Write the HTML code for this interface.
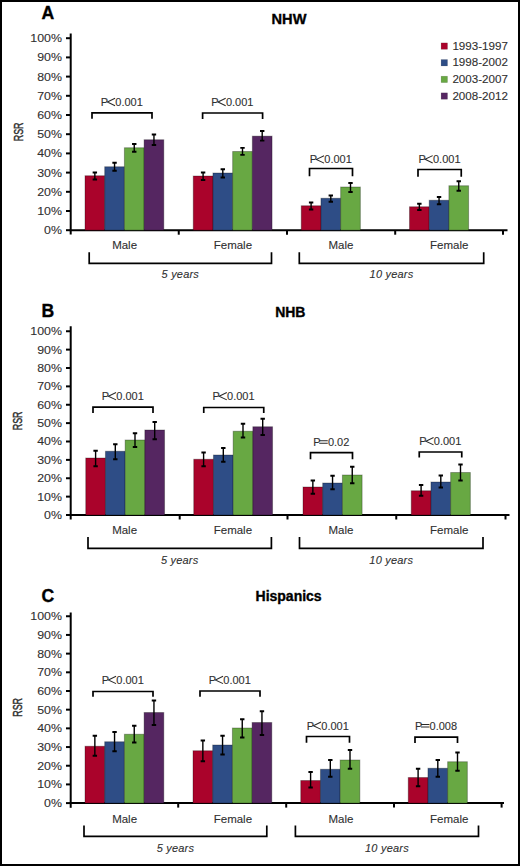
<!DOCTYPE html>
<html><head><meta charset="utf-8"><style>
html,body{margin:0;padding:0;background:#fff;}
body{width:520px;height:866px;overflow:hidden;}
svg{display:block;}
.thin{}
text{stroke:#303030;stroke-width:0.1;font-kerning:none;font-family:"Liberation Sans",sans-serif;fill:#303030;}
.lt{font-size:17.6px;font-weight:bold;fill:#000;stroke:#000;stroke-width:0.35;}
.tt{font-weight:bold;fill:#000;stroke:#000;stroke-width:0.35;}
.tk{font-size:11.8px;}
.rsr{font-size:13.4px;stroke:#2a2a2a;stroke-width:0.45;}
.pv{font-size:11px;}
.op{stroke:#2a2a2a;stroke-width:1.05;fill:none;stroke-linejoin:miter;}
.lb{font-size:11.5px;}
.yr{font-size:11px;font-style:italic;letter-spacing:0.2px;}
.lg{font-size:11.4px;}
.bar{stroke:rgba(0,0,0,0.3);stroke-width:1;}
.ax{stroke:#000;stroke-width:2;fill:none;}
.eb{stroke:#000;stroke-width:1.4;fill:none;}
.ec{stroke:#000;stroke-width:1.8;fill:none;}
.br{stroke:#000;stroke-width:1.7;fill:none;}
</style></head><body>
<svg width="520" height="866" viewBox="0 0 520 866">
<rect x="0" y="0" width="520" height="866" fill="#fff"/>
<text x="41.5" y="18.9" class="lt">A</text>
<text x="289" y="23.8" class="tt" style="font-size:14.6px" text-anchor="middle">NHW</text>
<line x1="70.7" y1="33.5" x2="70.7" y2="234.5" class="ax"/>
<line x1="69.7" y1="230.2" x2="507.5" y2="230.2" class="ax"/>
<line x1="66" y1="230.2" x2="71" y2="230.2" class="ax"/>
<text transform="translate(62,234.1) scale(1.05,1)" class="tk" text-anchor="end">0%</text>
<line x1="66" y1="211" x2="71" y2="211" class="ax"/>
<text transform="translate(62,214.9) scale(1.05,1)" class="tk" text-anchor="end">10%</text>
<line x1="66" y1="191.8" x2="71" y2="191.8" class="ax"/>
<text transform="translate(62,195.7) scale(1.05,1)" class="tk" text-anchor="end">20%</text>
<line x1="66" y1="172.6" x2="71" y2="172.6" class="ax"/>
<text transform="translate(62,176.5) scale(1.05,1)" class="tk" text-anchor="end">30%</text>
<line x1="66" y1="153.4" x2="71" y2="153.4" class="ax"/>
<text transform="translate(62,157.3) scale(1.05,1)" class="tk" text-anchor="end">40%</text>
<line x1="66" y1="134.2" x2="71" y2="134.2" class="ax"/>
<text transform="translate(62,138.1) scale(1.05,1)" class="tk" text-anchor="end">50%</text>
<line x1="66" y1="115" x2="71" y2="115" class="ax"/>
<text transform="translate(62,118.9) scale(1.05,1)" class="tk" text-anchor="end">60%</text>
<line x1="66" y1="95.8" x2="71" y2="95.8" class="ax"/>
<text transform="translate(62,99.7) scale(1.05,1)" class="tk" text-anchor="end">70%</text>
<line x1="66" y1="76.6" x2="71" y2="76.6" class="ax"/>
<text transform="translate(62,80.5) scale(1.05,1)" class="tk" text-anchor="end">80%</text>
<line x1="66" y1="57.4" x2="71" y2="57.4" class="ax"/>
<text transform="translate(62,61.3) scale(1.05,1)" class="tk" text-anchor="end">90%</text>
<line x1="66" y1="38.2" x2="71" y2="38.2" class="ax"/>
<text transform="translate(62,42.1) scale(1.05,1)" class="tk" text-anchor="end">100%</text>
<line x1="178.75" y1="230.2" x2="178.75" y2="234.7" class="ax"/>
<line x1="287" y1="230.2" x2="287" y2="234.7" class="ax"/>
<line x1="395.2" y1="230.2" x2="395.2" y2="234.7" class="ax"/>
<line x1="503" y1="230.2" x2="503" y2="234.7" class="ax"/>
<text transform="translate(22.5,131.9) rotate(-90) scale(0.66,1)" class="rsr" text-anchor="middle">RSR</text>
<rect x="85" y="175.75" width="19.7" height="54.45" fill="#aa032b" class="bar"/>
<rect x="104.7" y="166.75" width="19.7" height="63.45" fill="#2e4d86" class="bar"/>
<rect x="124.4" y="147.75" width="19.7" height="82.45" fill="#68a843" class="bar"/>
<rect x="144.1" y="139.75" width="19.7" height="90.45" fill="#552661" class="bar"/>
<path d="M92.65 172.5H97.05M92.65 179.5H97.05" class="ec"/><path d="M94.85 172.5V179.5" class="eb"/>
<path d="M112.35 162.75H116.75M112.35 170.75H116.75" class="ec"/><path d="M114.55 162.75V170.75" class="eb"/>
<path d="M132.05 144H136.45M132.05 151.75H136.45" class="ec"/><path d="M134.25 144V151.75" class="eb"/>
<path d="M151.75 134.5H156.15M151.75 145H156.15" class="ec"/><path d="M153.95 134.5V145" class="eb"/>
<rect x="193.25" y="176" width="19.7" height="54.2" fill="#aa032b" class="bar"/>
<rect x="212.95" y="173" width="19.7" height="57.2" fill="#2e4d86" class="bar"/>
<rect x="232.65" y="151.5" width="19.7" height="78.7" fill="#68a843" class="bar"/>
<rect x="252.35" y="136.15" width="19.7" height="94.05" fill="#552661" class="bar"/>
<path d="M200.9 172.5H205.3M200.9 180H205.3" class="ec"/><path d="M203.1 172.5V180" class="eb"/>
<path d="M220.6 169.25H225M220.6 177.5H225" class="ec"/><path d="M222.8 169.25V177.5" class="eb"/>
<path d="M240.3 147.9H244.7M240.3 154.8H244.7" class="ec"/><path d="M242.5 147.9V154.8" class="eb"/>
<path d="M260 131H264.4M260 140.7H264.4" class="ec"/><path d="M262.2 131V140.7" class="eb"/>
<rect x="301.25" y="205.75" width="19.7" height="24.45" fill="#aa032b" class="bar"/>
<rect x="320.95" y="198.25" width="19.7" height="31.95" fill="#2e4d86" class="bar"/>
<rect x="340.65" y="187" width="19.7" height="43.2" fill="#68a843" class="bar"/>
<path d="M308.9 202.5H313.3M308.9 209.5H313.3" class="ec"/><path d="M311.1 202.5V209.5" class="eb"/>
<path d="M328.6 195.5H333M328.6 201.75H333" class="ec"/><path d="M330.8 195.5V201.75" class="eb"/>
<path d="M348.3 183H352.7M348.3 192H352.7" class="ec"/><path d="M350.5 183V192" class="eb"/>
<rect x="409.5" y="206.75" width="19.7" height="23.45" fill="#aa032b" class="bar"/>
<rect x="429.2" y="200.25" width="19.7" height="29.95" fill="#2e4d86" class="bar"/>
<rect x="448.9" y="185.75" width="19.7" height="44.45" fill="#68a843" class="bar"/>
<path d="M417.15 203.75H421.55M417.15 210H421.55" class="ec"/><path d="M419.35 203.75V210" class="eb"/>
<path d="M436.85 197H441.25M436.85 204.25H441.25" class="ec"/><path d="M439.05 197V204.25" class="eb"/>
<path d="M456.55 181.25H460.95M456.55 190.75H460.95" class="ec"/><path d="M458.75 181.25V190.75" class="eb"/>
<path d="M92 118.7V112.9H152V118.7" class="br"/>
<text x="100.77" y="105.8" class="pv">P</text>
<path d="M115.07 98.3L107.37 102L115.07 105.7" class="op"/>
<text x="115.34" y="105.8" class="pv">0.001</text>
<path d="M202.6 119V113H262.6V119" class="br"/>
<text x="211.37" y="105.8" class="pv">P</text>
<path d="M225.67 98.3L217.97 102L225.67 105.7" class="op"/>
<text x="225.94" y="105.8" class="pv">0.001</text>
<path d="M309.5 176.25V168.5H352.5V176.25" class="br"/>
<text x="309.77" y="163.2" class="pv">P</text>
<path d="M324.07 155.7L316.37 159.4L324.07 163.1" class="op"/>
<text x="324.34" y="163.2" class="pv">0.001</text>
<path d="M418 176.75V169.5H461.25V176.75" class="br"/>
<text x="418.4" y="163.1" class="pv">P</text>
<path d="M432.7 155.6L425 159.3L432.7 163" class="op"/>
<text x="432.97" y="163.1" class="pv">0.001</text>
<text x="124.6" y="249.3" class="lb" text-anchor="middle">Male</text>
<text x="232.9" y="249.3" class="lb" text-anchor="middle">Female</text>
<text x="341" y="249.3" class="lb" text-anchor="middle">Male</text>
<text x="449.25" y="249.3" class="lb" text-anchor="middle">Female</text>
<path d="M89.2 252.2V263.4H271.5V252.2" class="br"/>
<text x="180.35" y="278" class="yr" text-anchor="middle">5 years</text>
<path d="M299.3 252.2V263.4H483.7V252.2" class="br"/>
<text x="391.5" y="278" class="yr" text-anchor="middle">10 years</text>
<rect x="441.1" y="42.9" width="6.4" height="6.4" fill="#aa032b" stroke="rgba(0,0,0,0.2)" stroke-width="0.6"/>
<text transform="translate(452.4,49.8) scale(1.02,1)" class="lg">1993-1997</text>
<rect x="441.1" y="59.55" width="6.4" height="6.4" fill="#2e4d86" stroke="rgba(0,0,0,0.2)" stroke-width="0.6"/>
<text transform="translate(452.4,66.45) scale(1.02,1)" class="lg">1998-2002</text>
<rect x="441.1" y="76.2" width="6.4" height="6.4" fill="#68a843" stroke="rgba(0,0,0,0.2)" stroke-width="0.6"/>
<text transform="translate(452.4,83.1) scale(1.02,1)" class="lg">2003-2007</text>
<rect x="441.1" y="92.85" width="6.4" height="6.4" fill="#552661" stroke="rgba(0,0,0,0.2)" stroke-width="0.6"/>
<text transform="translate(452.4,99.75) scale(1.02,1)" class="lg">2008-2012</text>
<text x="41.5" y="316.5" class="lt">B</text>
<text x="290.3" y="316.5" class="tt" style="font-size:14px" text-anchor="middle">NHB</text>
<line x1="70.7" y1="326.25" x2="70.7" y2="519.5" class="ax"/>
<line x1="69.7" y1="515" x2="509.5" y2="515" class="ax"/>
<line x1="66" y1="515" x2="71" y2="515" class="ax"/>
<text transform="translate(62,518.9) scale(1.05,1)" class="tk" text-anchor="end">0%</text>
<line x1="66" y1="496.62" x2="71" y2="496.62" class="ax"/>
<text transform="translate(62,500.52) scale(1.05,1)" class="tk" text-anchor="end">10%</text>
<line x1="66" y1="478.25" x2="71" y2="478.25" class="ax"/>
<text transform="translate(62,482.15) scale(1.05,1)" class="tk" text-anchor="end">20%</text>
<line x1="66" y1="459.88" x2="71" y2="459.88" class="ax"/>
<text transform="translate(62,463.77) scale(1.05,1)" class="tk" text-anchor="end">30%</text>
<line x1="66" y1="441.5" x2="71" y2="441.5" class="ax"/>
<text transform="translate(62,445.4) scale(1.05,1)" class="tk" text-anchor="end">40%</text>
<line x1="66" y1="423.12" x2="71" y2="423.12" class="ax"/>
<text transform="translate(62,427.02) scale(1.05,1)" class="tk" text-anchor="end">50%</text>
<line x1="66" y1="404.75" x2="71" y2="404.75" class="ax"/>
<text transform="translate(62,408.65) scale(1.05,1)" class="tk" text-anchor="end">60%</text>
<line x1="66" y1="386.38" x2="71" y2="386.38" class="ax"/>
<text transform="translate(62,390.27) scale(1.05,1)" class="tk" text-anchor="end">70%</text>
<line x1="66" y1="368" x2="71" y2="368" class="ax"/>
<text transform="translate(62,371.9) scale(1.05,1)" class="tk" text-anchor="end">80%</text>
<line x1="66" y1="349.62" x2="71" y2="349.62" class="ax"/>
<text transform="translate(62,353.52) scale(1.05,1)" class="tk" text-anchor="end">90%</text>
<line x1="66" y1="331.25" x2="71" y2="331.25" class="ax"/>
<text transform="translate(62,335.15) scale(1.05,1)" class="tk" text-anchor="end">100%</text>
<line x1="179.7" y1="515" x2="179.7" y2="519.5" class="ax"/>
<line x1="287.5" y1="515" x2="287.5" y2="519.5" class="ax"/>
<line x1="396.25" y1="515" x2="396.25" y2="519.5" class="ax"/>
<line x1="505.5" y1="515" x2="505.5" y2="519.5" class="ax"/>
<text transform="translate(22.3,420.85) rotate(-90) scale(0.66,1)" class="rsr" text-anchor="middle">RSR</text>
<rect x="85.75" y="458" width="19.7" height="57" fill="#aa032b" class="bar"/>
<rect x="105.45" y="451.25" width="19.7" height="63.75" fill="#2e4d86" class="bar"/>
<rect x="125.15" y="440" width="19.7" height="75" fill="#68a843" class="bar"/>
<rect x="144.85" y="430" width="19.7" height="85" fill="#552661" class="bar"/>
<path d="M93.4 450.75H97.8M93.4 466.25H97.8" class="ec"/><path d="M95.6 450.75V466.25" class="eb"/>
<path d="M113.1 444.25H117.5M113.1 459.25H117.5" class="ec"/><path d="M115.3 444.25V459.25" class="eb"/>
<path d="M132.8 433.25H137.2M132.8 447H137.2" class="ec"/><path d="M135 433.25V447" class="eb"/>
<path d="M152.5 422H156.9M152.5 439.25H156.9" class="ec"/><path d="M154.7 422V439.25" class="eb"/>
<rect x="193.75" y="459.25" width="19.7" height="55.75" fill="#aa032b" class="bar"/>
<rect x="213.45" y="455" width="19.7" height="60" fill="#2e4d86" class="bar"/>
<rect x="233.15" y="431.25" width="19.7" height="83.75" fill="#68a843" class="bar"/>
<rect x="252.85" y="426.75" width="19.7" height="88.25" fill="#552661" class="bar"/>
<path d="M201.4 452.5H205.8M201.4 466.25H205.8" class="ec"/><path d="M203.6 452.5V466.25" class="eb"/>
<path d="M221.1 448H225.5M221.1 461.75H225.5" class="ec"/><path d="M223.3 448V461.75" class="eb"/>
<path d="M240.8 423.75H245.2M240.8 437.5H245.2" class="ec"/><path d="M243 423.75V437.5" class="eb"/>
<path d="M260.5 418.75H264.9M260.5 435H264.9" class="ec"/><path d="M262.7 418.75V435" class="eb"/>
<rect x="303" y="487" width="19.7" height="28" fill="#aa032b" class="bar"/>
<rect x="322.7" y="483" width="19.7" height="32" fill="#2e4d86" class="bar"/>
<rect x="342.4" y="475" width="19.7" height="40" fill="#68a843" class="bar"/>
<path d="M310.65 480.5H315.05M310.65 493.75H315.05" class="ec"/><path d="M312.85 480.5V493.75" class="eb"/>
<path d="M330.35 475.75H334.75M330.35 489.25H334.75" class="ec"/><path d="M332.55 475.75V489.25" class="eb"/>
<path d="M350.05 466.75H354.45M350.05 483.25H354.45" class="ec"/><path d="M352.25 466.75V483.25" class="eb"/>
<rect x="411.25" y="490.75" width="19.7" height="24.25" fill="#aa032b" class="bar"/>
<rect x="430.95" y="482" width="19.7" height="33" fill="#2e4d86" class="bar"/>
<rect x="450.65" y="472.5" width="19.7" height="42.5" fill="#68a843" class="bar"/>
<path d="M418.9 485H423.3M418.9 495.75H423.3" class="ec"/><path d="M421.1 485V495.75" class="eb"/>
<path d="M438.6 475.5H443M438.6 487.5H443" class="ec"/><path d="M440.8 475.5V487.5" class="eb"/>
<path d="M458.3 464.5H462.7M458.3 480.5H462.7" class="ec"/><path d="M460.5 464.5V480.5" class="eb"/>
<path d="M93 413V407.2H153V413" class="br"/>
<text x="101.77" y="400" class="pv">P</text>
<path d="M116.07 392.5L108.37 396.2L116.07 399.9" class="op"/>
<text x="116.34" y="400" class="pv">0.001</text>
<path d="M203.75 413V407.5H263.75V413" class="br"/>
<text x="212.52" y="400" class="pv">P</text>
<path d="M226.82 392.5L219.12 396.2L226.82 399.9" class="op"/>
<text x="227.09" y="400" class="pv">0.001</text>
<path d="M310.5 459.25V452.7H352.5V459.25" class="br"/>
<text x="313.34" y="445.75" class="pv">P</text>
<path d="M319.24 440.65H327.74M319.24 443.15H327.74" class="op"/>
<text x="327.91" y="445.75" class="pv">0.02</text>
<path d="M419.25 457.5V452H461.75V457.5" class="br"/>
<text x="419.27" y="445" class="pv">P</text>
<path d="M433.57 437.5L425.87 441.2L433.57 444.9" class="op"/>
<text x="433.84" y="445" class="pv">0.001</text>
<text x="124.6" y="534.1" class="lb" text-anchor="middle">Male</text>
<text x="232.9" y="534.1" class="lb" text-anchor="middle">Female</text>
<text x="341" y="534.1" class="lb" text-anchor="middle">Male</text>
<text x="449.25" y="534.1" class="lb" text-anchor="middle">Female</text>
<path d="M88 537V548.3H271.4V537" class="br"/>
<text x="179.7" y="563.5" class="yr" text-anchor="middle">5 years</text>
<path d="M299.5 537V548.3H483V537" class="br"/>
<text x="391.25" y="563.5" class="yr" text-anchor="middle">10 years</text>
<text x="41.5" y="602.4" class="lt">C</text>
<text x="288.6" y="601.2" class="tt" style="font-size:14px" text-anchor="middle">Hispanics</text>
<line x1="70.7" y1="612.5" x2="70.7" y2="807.8" class="ax"/>
<line x1="69.7" y1="803.1" x2="504" y2="803.1" class="ax"/>
<line x1="66" y1="803.1" x2="71" y2="803.1" class="ax"/>
<text transform="translate(62,807) scale(1.05,1)" class="tk" text-anchor="end">0%</text>
<line x1="66" y1="784.41" x2="71" y2="784.41" class="ax"/>
<text transform="translate(62,788.31) scale(1.05,1)" class="tk" text-anchor="end">10%</text>
<line x1="66" y1="765.73" x2="71" y2="765.73" class="ax"/>
<text transform="translate(62,769.63) scale(1.05,1)" class="tk" text-anchor="end">20%</text>
<line x1="66" y1="747.05" x2="71" y2="747.05" class="ax"/>
<text transform="translate(62,750.95) scale(1.05,1)" class="tk" text-anchor="end">30%</text>
<line x1="66" y1="728.36" x2="71" y2="728.36" class="ax"/>
<text transform="translate(62,732.26) scale(1.05,1)" class="tk" text-anchor="end">40%</text>
<line x1="66" y1="709.67" x2="71" y2="709.67" class="ax"/>
<text transform="translate(62,713.57) scale(1.05,1)" class="tk" text-anchor="end">50%</text>
<line x1="66" y1="690.99" x2="71" y2="690.99" class="ax"/>
<text transform="translate(62,694.89) scale(1.05,1)" class="tk" text-anchor="end">60%</text>
<line x1="66" y1="672.31" x2="71" y2="672.31" class="ax"/>
<text transform="translate(62,676.21) scale(1.05,1)" class="tk" text-anchor="end">70%</text>
<line x1="66" y1="653.62" x2="71" y2="653.62" class="ax"/>
<text transform="translate(62,657.52) scale(1.05,1)" class="tk" text-anchor="end">80%</text>
<line x1="66" y1="634.93" x2="71" y2="634.93" class="ax"/>
<text transform="translate(62,638.83) scale(1.05,1)" class="tk" text-anchor="end">90%</text>
<line x1="66" y1="616.25" x2="71" y2="616.25" class="ax"/>
<text transform="translate(62,620.15) scale(1.05,1)" class="tk" text-anchor="end">100%</text>
<line x1="178.2" y1="803.1" x2="178.2" y2="807.6" class="ax"/>
<line x1="286.2" y1="803.1" x2="286.2" y2="807.6" class="ax"/>
<line x1="394" y1="803.1" x2="394" y2="807.6" class="ax"/>
<line x1="501.6" y1="803.1" x2="501.6" y2="807.6" class="ax"/>
<text transform="translate(22.3,707.35) rotate(-90) scale(0.66,1)" class="rsr" text-anchor="middle">RSR</text>
<rect x="85" y="746.25" width="19.7" height="56.85" fill="#aa032b" class="bar"/>
<rect x="104.7" y="741.75" width="19.7" height="61.35" fill="#2e4d86" class="bar"/>
<rect x="124.4" y="734.25" width="19.7" height="68.85" fill="#68a843" class="bar"/>
<rect x="144.1" y="712.5" width="19.7" height="90.6" fill="#552661" class="bar"/>
<path d="M92.65 735.75H97.05M92.65 755.75H97.05" class="ec"/><path d="M94.85 735.75V755.75" class="eb"/>
<path d="M112.35 732H116.75M112.35 751.25H116.75" class="ec"/><path d="M114.55 732V751.25" class="eb"/>
<path d="M132.05 725.75H136.45M132.05 742.5H136.45" class="ec"/><path d="M134.25 725.75V742.5" class="eb"/>
<path d="M151.75 700.5H156.15M151.75 725H156.15" class="ec"/><path d="M153.95 700.5V725" class="eb"/>
<rect x="193" y="750.75" width="19.7" height="52.35" fill="#aa032b" class="bar"/>
<rect x="212.7" y="745" width="19.7" height="58.1" fill="#2e4d86" class="bar"/>
<rect x="232.4" y="728" width="19.7" height="75.1" fill="#68a843" class="bar"/>
<rect x="252.1" y="722.5" width="19.7" height="80.6" fill="#552661" class="bar"/>
<path d="M200.65 740.5H205.05M200.65 761.25H205.05" class="ec"/><path d="M202.85 740.5V761.25" class="eb"/>
<path d="M220.35 735.75H224.75M220.35 754.5H224.75" class="ec"/><path d="M222.55 735.75V754.5" class="eb"/>
<path d="M240.05 719.25H244.45M240.05 737.5H244.45" class="ec"/><path d="M242.25 719.25V737.5" class="eb"/>
<path d="M259.75 711.25H264.15M259.75 735H264.15" class="ec"/><path d="M261.95 711.25V735" class="eb"/>
<rect x="300.75" y="780.5" width="19.7" height="22.6" fill="#aa032b" class="bar"/>
<rect x="320.45" y="769.25" width="19.7" height="33.85" fill="#2e4d86" class="bar"/>
<rect x="340.15" y="760" width="19.7" height="43.1" fill="#68a843" class="bar"/>
<path d="M308.4 772H312.8M308.4 787.5H312.8" class="ec"/><path d="M310.6 772V787.5" class="eb"/>
<path d="M328.1 760H332.5M328.1 776.75H332.5" class="ec"/><path d="M330.3 760V776.75" class="eb"/>
<path d="M347.8 750H352.2M347.8 768.75H352.2" class="ec"/><path d="M350 750V768.75" class="eb"/>
<rect x="408.25" y="777.5" width="19.7" height="25.6" fill="#aa032b" class="bar"/>
<rect x="427.95" y="768.25" width="19.7" height="34.85" fill="#2e4d86" class="bar"/>
<rect x="447.65" y="761.75" width="19.7" height="41.35" fill="#68a843" class="bar"/>
<path d="M415.9 768.75H420.3M415.9 786.25H420.3" class="ec"/><path d="M418.1 768.75V786.25" class="eb"/>
<path d="M435.6 760H440M435.6 776.75H440" class="ec"/><path d="M437.8 760V776.75" class="eb"/>
<path d="M455.3 752.5H459.7M455.3 770.75H459.7" class="ec"/><path d="M457.5 752.5V770.75" class="eb"/>
<path d="M93 696.75V691.5H153V696.75" class="br"/>
<text x="101.77" y="683.75" class="pv">P</text>
<path d="M116.07 676.25L108.37 679.95L116.07 683.65" class="op"/>
<text x="116.34" y="683.75" class="pv">0.001</text>
<path d="M200 696.75V691H260V696.75" class="br"/>
<text x="208.77" y="683.75" class="pv">P</text>
<path d="M223.07 676.25L215.37 679.95L223.07 683.65" class="op"/>
<text x="223.34" y="683.75" class="pv">0.001</text>
<path d="M306.5 742.7V736.5H349.5V742.7" class="br"/>
<text x="306.77" y="729.5" class="pv">P</text>
<path d="M321.07 722L313.37 725.7L321.07 729.4" class="op"/>
<text x="321.34" y="729.5" class="pv">0.001</text>
<path d="M415 743V737.2H457.5V743" class="br"/>
<text x="415.01" y="729.5" class="pv">P</text>
<path d="M420.91 724.4H429.41M420.91 726.9H429.41" class="op"/>
<text x="429.58" y="729.5" class="pv">0.008</text>
<text x="124.6" y="822.5" class="lb" text-anchor="middle">Male</text>
<text x="232.9" y="822.5" class="lb" text-anchor="middle">Female</text>
<text x="341" y="822.5" class="lb" text-anchor="middle">Male</text>
<text x="449.25" y="822.5" class="lb" text-anchor="middle">Female</text>
<path d="M84 825.6V836.3H266.8V825.6" class="br"/>
<text x="175.4" y="851.8" class="yr" text-anchor="middle">5 years</text>
<path d="M295.4 825.6V836.3H478.5V825.6" class="br"/>
<text x="386.95" y="851.8" class="yr" text-anchor="middle">10 years</text>
<rect x="1" y="1" width="518" height="864" fill="none" stroke="#000" stroke-width="2"/>
</svg>
</body></html>
